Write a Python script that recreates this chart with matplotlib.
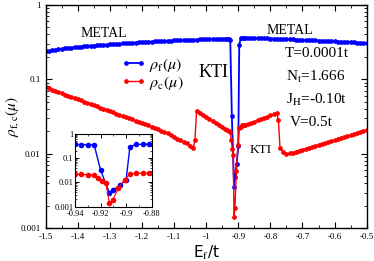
import matplotlib
matplotlib.use('Agg')
import matplotlib.pyplot as plt
from matplotlib.ticker import MultipleLocator, LogLocator, FixedLocator, NullFormatter

plt.rcParams['font.family'] = ['Liberation Serif', 'DejaVu Serif']
plt.rcParams['mathtext.fontset'] = 'stix'

# --- rho_f (blue) ---
xf_left = [-1.50, -1.49, -1.48, -1.47, -1.46, -1.45, -1.44, -1.43, -1.42, -1.41,
           -1.40, -1.39, -1.38, -1.37, -1.36, -1.35, -1.34, -1.33, -1.32, -1.31,
           -1.30, -1.29, -1.28, -1.27, -1.26, -1.25, -1.24, -1.23, -1.22, -1.21,
           -1.20, -1.19, -1.18, -1.17, -1.16, -1.15, -1.14, -1.13, -1.12, -1.11,
           -1.10, -1.09, -1.08, -1.07, -1.06, -1.05, -1.04, -1.03, -1.02, -1.01,
           -1.00, -0.99, -0.98, -0.97, -0.96, -0.95, -0.94]
rf_left = [.235, .239, .243, .247, .251, .254, .258, .261, .264, .267,
           .270, .273, .275, .277, .280, .282, .284, .286, .288, .291,
           .293, .295, .297, .299, .301, .303, .305, .307, .309, .311,
           .313, .315, .317, .318, .320, .322, .323, .325, .327, .328,
           .330, .331, .333, .334, .335, .337, .338, .339, .341, .342,
           .343, .344, .345, .346, .347, .348, .349]
xf_dip = [-0.935, -0.93, -0.925, -0.92, -0.913, -0.91, -0.905, -0.90,
          -0.897, -0.892, -0.887, -0.882]
rf_dip = [0.35, 0.35, 0.34, 0.032, 0.0036, 0.0049, 0.0074, 0.0126,
          0.29, 0.355, 0.36, 0.36]
xf_right = [-0.88, -0.87, -0.86, -0.85, -0.84, -0.83, -0.82, -0.81, -0.80, -0.79,
            -0.78, -0.77, -0.76, -0.75, -0.74, -0.73, -0.72, -0.71, -0.70,
            -0.69, -0.68, -0.67, -0.66, -0.65, -0.64, -0.63, -0.62, -0.61, -0.60,
            -0.59, -0.58, -0.57, -0.56, -0.55, -0.54, -0.53, -0.52, -0.51, -0.50]
rf_right = [.360, .359, .358, .357, .356, .355, .353, .352, .350, .349,
            .348, .347, .345, .344, .343, .341, .340, .338, .336,
            .335, .333, .332, .330, .328, .327, .325, .323, .322, .320,
            .318, .317, .315, .314, .312, .311, .309, .308, .306, .305]

# --- rho_c (red) ---
xc_left = [-1.50, -1.49, -1.48, -1.47, -1.46, -1.45, -1.44, -1.43, -1.42, -1.41,
           -1.40, -1.39, -1.38, -1.37, -1.36, -1.35, -1.34, -1.33, -1.32, -1.31,
           -1.30, -1.29, -1.28, -1.27, -1.26, -1.25, -1.24, -1.23, -1.22, -1.21,
           -1.20, -1.19, -1.18, -1.17, -1.16, -1.15, -1.14, -1.13, -1.12, -1.11,
           -1.10, -1.09, -1.08, -1.07, -1.06, -1.05, -1.04, -1.035, -1.03, -1.02, -1.01,
           -1.00, -0.99, -0.98, -0.97, -0.96, -0.95, -0.94]
rc_left = [.0782, .0753, .0725, .0698, .0672, .0647, .0623, .0600, .0578, .0557,
           .0537, .0518, .0500, .0482, .0465, .0448, .0432, .0417, .0402, .0388,
           .0372, .0359, .0346, .0334, .0322, .0311, .0300, .0289, .0278, .0268,
           .0260, .0250, .0240, .0230, .0221, .0212, .0203, .0195, .0187, .0179,
           .0166, .0159, .0152, .0145, .0138, .0128, .0120, .0152, .0370, .0349, .0329,
           .0310, .0292, .0275, .0259, .0244, .0230, .0217]
xc_dip = [-0.935, -0.93, -0.925, -0.922, -0.9185, -0.916, -0.913, -0.9105,
          -0.906, -0.901, -0.897, -0.892, -0.887, -0.882]
rc_dip = [0.021, 0.0205, 0.0195, 0.0155, 0.0117, 0.0095, 0.0014, 0.0019,
          0.0058, 0.013, 0.022, 0.023, 0.024, 0.024]
xc_right = [-0.88, -0.87, -0.86, -0.85, -0.84, -0.83, -0.82, -0.81, -0.80, -0.79,
            -0.78, -0.775, -0.77, -0.76, -0.75, -0.74, -0.73, -0.72, -0.71, -0.70,
            -0.69, -0.68, -0.67, -0.66, -0.65, -0.64, -0.63, -0.62, -0.61, -0.60,
            -0.59, -0.58, -0.57, -0.56, -0.55, -0.54, -0.53, -0.52, -0.51, -0.50]
rc_right = [.0240, .0249, .0259, .0269, .0280, .0291, .0302, .0314, .0326, .0338,
            .0350, .0280, .0120, .0105, .0098, .0101, .0104, .0107, .0110, .0114,
            .0117, .0121, .0124, .0128, .0132, .0136, .0140, .0144, .0148, .0153,
            .0157, .0162, .0167, .0172, .0177, .0183, .0188, .0194, .0200, .0206]

# inset starts one step earlier
xi_start = [-0.94]
rf_start = [0.36]
rc_start = [0.022]

xf = xf_left + xf_dip + xf_right
rf = rf_left + rf_dip + rf_right
xc = xc_left + xc_dip + xc_right
rc = rc_left + rc_dip + rc_right

y_ticks = [0.001, 0.01, 0.1, 1]
y_ticklabels = ['0.001', '0.01', '0.1', '1']
x_ticks = [-1.5, -1.4, -1.3, -1.2, -1.1, -1.0, -0.9, -0.8, -0.7, -0.6, -0.5]
x_ticklabels = ['-1.5', '-1.4', '-1.3', '-1.2', '-1.1', '-1', '-0.9', '-0.8', '-0.7', '-0.6', '-0.5']
inset_xticks = [-0.94, -0.92, -0.9, -0.88]
inset_xticklabels = ['-0.94', '-0.92', '-0.9', '-0.88']

fig = plt.figure(figsize=(3.74, 2.61), dpi=100)
ax = fig.add_axes([0.122, 0.125, 0.8585, 0.8575])

ax.plot(xf, rf, '-o', color='blue', lw=1.3, ms=2.4, label=r'$\rho_\mathrm{f}(\mu)$')
ax.plot(xc, rc, '-o', color='red', lw=1.0, ms=2.4, label=r'$\rho_\mathrm{c}(\mu)$')

ax.set_yscale('log')
ax.set_xlim(-1.5, -0.5)
ax.set_ylim(0.001, 1)
ax.set_xticks(x_ticks)
ax.set_xticklabels(x_ticklabels)
ax.xaxis.set_minor_locator(MultipleLocator(0.05))
ax.yaxis.set_major_locator(FixedLocator(y_ticks))
ax.set_yticklabels(y_ticklabels)
ax.yaxis.set_minor_locator(LogLocator(base=10, subs=range(2, 10)))
ax.yaxis.set_minor_formatter(NullFormatter())
ax.tick_params(which='both', direction='in', top=True, right=True, labelsize=6.5)
ax.tick_params(which='major', length=4, width=0.8)
ax.tick_params(which='minor', length=2, width=0.6)
for s in ax.spines.values():
    s.set_linewidth(1.0)

ax.set_xlabel(r'E$_\mathrm{f}$/t', family='DejaVu Sans', fontsize=11, labelpad=2)
ax.set_ylabel(r'$\rho_\mathrm{f,c}(\mu)$', family='DejaVu Sans', fontsize=11, labelpad=0)

ax.legend(loc='upper left', bbox_to_anchor=(0.236, 0.77), frameon=False, fontsize=11.5,
          numpoints=2, handlelength=1.5, handletextpad=0.25, labelspacing=0.0,
          borderaxespad=0, borderpad=0)

ax.text(-1.32, 0.41, 'METAL', fontsize=10, ha='center', va='center')
ax.text(-0.74, 0.45, 'METAL', fontsize=10, ha='center', va='center')
ax.text(-0.978, 0.124, 'KTI', fontsize=13, ha='center', va='center')
ax.text(-0.829, 0.0111, 'KTI', fontsize=9.5, ha='center', va='center')
ax.text(-0.655, 0.219, 'T=0.0001t', fontsize=11, ha='center', va='center')
ax.text(-0.66, 0.106, r'N$_\mathrm{t}$=1.666', fontsize=11, ha='center', va='center')
ax.text(-0.655, 0.052, r'J$_\mathrm{H}$=-0.10t', fontsize=11, ha='center', va='center')
ax.text(-0.672, 0.0265, 'V=0.5t', fontsize=11, ha='center', va='center')

# inset
axi = fig.add_axes([0.2005, 0.208, 0.205, 0.2805])
axi.plot(xi_start + xf_dip, rf_start + rf_dip, '-o', color='blue', lw=1.0, ms=3)
axi.plot(xi_start + xc_dip, rc_start + rc_dip, '-o', color='red', lw=0.8, ms=3)
axi.set_yscale('log')
axi.set_xlim(-0.94, -0.88)
axi.set_ylim(0.001, 1)
axi.set_xticks(inset_xticks)
axi.set_xticklabels(inset_xticklabels)
axi.xaxis.set_minor_locator(MultipleLocator(0.01))
axi.yaxis.set_major_locator(FixedLocator(y_ticks))
axi.set_yticklabels(y_ticklabels)
axi.yaxis.set_minor_locator(LogLocator(base=10, subs=range(2, 10)))
axi.yaxis.set_minor_formatter(NullFormatter())
axi.tick_params(which='both', direction='in', top=True, right=True, labelsize=6)
axi.tick_params(axis='y', pad=1)
axi.tick_params(axis='x', pad=2.5)
axi.tick_params(which='major', length=3, width=0.7)
axi.tick_params(which='minor', length=1.5, width=0.5)

fig.savefig('out.png', dpi=100)
